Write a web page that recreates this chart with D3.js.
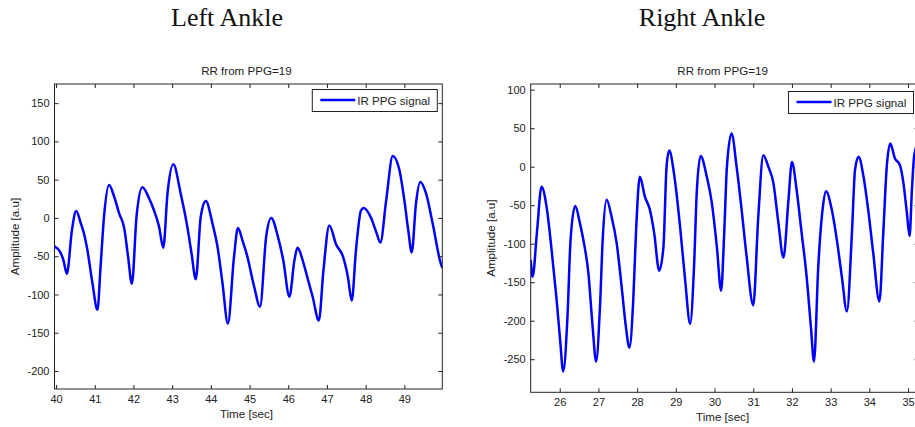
<!DOCTYPE html>
<html lang="en">
<head>
  <meta charset="UTF-8">
  <title>Left / Right Ankle PPG</title>
  <script src="https://cdnjs.cloudflare.com/ajax/libs/d3/7.8.5/d3.min.js"></script>
  <style>
    body { margin: 0; background: #fff; }
    svg { display: block; font-family: "Liberation Sans", Arial, sans-serif; }
    .big-title { font-family: "Liberation Serif", "Times New Roman", serif; font-size: 26px; fill: #111; }
    .small { font-size: 11.6px; fill: #222; }
    .tick text { font-size: 11px; fill: #222; font-family: "Liberation Sans", Arial, sans-serif; }
    .tick line { stroke: #222; }
    .frame { fill: none; stroke: #222; stroke-width: 1px; }
    .signal { fill: none; stroke: #0000ff; stroke-width: 2.5px; stroke-linejoin: round; }
    .legend-box { fill: #fff; stroke: #222; stroke-width: 1px; }
  </style>
</head>
<body>
<div id="wrapper"></div>
<script>
// ---- data ----
const leftTime = [39.96, 40.1, 40.19, 40.28, 40.41, 40.52, 40.64, 40.72, 40.81, 40.94, 41.07, 41.15, 41.24, 41.37,
  41.5, 41.63, 41.76, 41.86, 41.96, 42.08, 42.23, 42.4, 42.53, 42.66, 42.77, 42.88, 43.03, 43.22, 43.39, 43.5,
  43.61, 43.74, 43.87, 44.04, 44.17, 44.3, 44.44, 44.6, 44.7, 44.82, 44.93, 45.12, 45.27, 45.43, 45.56, 45.73,
  45.87, 46.03, 46.16, 46.24, 46.37, 46.5, 46.63, 46.79, 46.91, 47.06, 47.24, 47.41, 47.54, 47.64, 47.75, 47.88,
  47.95, 48.14, 48.27, 48.38, 48.53, 48.7, 48.87, 49.0, 49.1, 49.19, 49.3, 49.41, 49.56, 49.73, 49.95, 49.98];
const leftAmp = [-37, -44, -55, -73, -16, 9, -7, -20, -42, -85, -120, -64, 2, 43,
  28, 6, -13, -50, -86, 2, 40, 26, 10, -11, -39, 32, 70, 32, -11, -46,
  -80, 2, 22, -7, -37, -85, -138, -50, -13, -30, -48, -90, -116, -24, 0, -24,
  -55, -103, -55, -39, -55, -79, -103, -134, -68, -10, -35, -50, -77, -108, -42, 10,
  13, 0, -18, -32, 23, 81, 63, 23, -16, -45, 19, 47, 32, -7, -61, -65];

const rightTime = [25.25, 25.3, 25.41, 25.53, 25.66, 25.79, 25.92, 26.01, 26.09, 26.2, 26.28, 26.4, 26.52, 26.61,
  26.74, 26.85, 26.94, 27.04, 27.11, 27.21, 27.34, 27.47, 27.6, 27.71, 27.8, 27.9, 27.97, 28.07, 28.2, 28.33,
  28.44, 28.57, 28.68, 28.76, 28.83, 28.95, 29.11, 29.24, 29.37, 29.47, 29.54, 29.64, 29.8, 29.93, 30.06, 30.17,
  30.25, 30.32, 30.44, 30.57, 30.7, 30.83, 31.0, 31.13, 31.26, 31.39, 31.52, 31.65, 31.78, 31.91, 32.0, 32.12,
  32.25, 32.38, 32.49, 32.57, 32.68, 32.8, 32.88, 33.03, 33.16, 33.29, 33.42, 33.55, 33.63, 33.72, 33.85, 33.97,
  34.1, 34.26, 34.36, 34.45, 34.54, 34.66, 34.79, 34.88, 34.97, 35.04, 35.1, 35.16, 35.25];
const rightAmp = [-121, -143, -86, -26, -52, -108, -173, -225, -266, -195, -95, -51, -73, -95,
  -138, -208, -253, -182, -95, -43, -65, -99, -156, -208, -235, -173, -86, -13, -39, -56,
  -86, -135, -104, 0, 21, -8, -78, -147, -204, -130, -34, 14, -13, -47, -104, -161,
  -86, 0, 43, 0, -56, -117, -180, -65, 15, 0, -21, -73, -118, -43, 6, -30,
  -86, -143, -208, -253, -130, -52, -32, -56, -95, -143, -188, -86, -4, 13, -13, -56,
  -112, -175, -86, 0, 30, 11, 2, -21, -60, -90, -30, 15, 30];

const leftXTicks = [40, 41, 42, 43, 44, 45, 46, 47, 48, 49];
const leftYTicks = [-200, -150, -100, -50, 0, 50, 100, 150];
const rightXTicks = [26, 27, 28, 29, 30, 31, 32, 33, 34, 35];
const rightYTicks = [-250, -200, -150, -100, -50, 0, 50, 100];
const leftXDomain = [39.96, 49.98];
const leftYDomain = [-223.5, 175];
const rightXDomain = [25.25, 35.27];
const rightYDomain = [-293, 107.4];

const panelTitles = ["Left Ankle", "Right Ankle"];
const plotTitle = "RR from PPG=19";
const legendLabel = "IR PPG signal";

// ---- layout ----
const width = 915, height = 427;

const panels = [
  { title: panelTitles[0], cx: 227, box: { x0: 54.5, x1: 442.3, y0: 84, y1: 389 },
    time: leftTime, amp: leftAmp, xTicks: leftXTicks, yTicks: leftYTicks,
    xDomain: leftXDomain, yDomain: leftYDomain, legendY: 89.5 },
  { title: panelTitles[1], cx: 702, box: { x0: 530.7, x1: 918.5, y0: 84, y1: 392.3 },
    time: rightTime, amp: rightAmp, xTicks: rightXTicks, yTicks: rightYTicks,
    xDomain: rightXDomain, yDomain: rightYDomain, legendY: 91.5 }
];

const svg = d3.select("#wrapper")
  .append("svg")
  .attr("width", width)
  .attr("height", height);

panels.forEach((p, idx) => {
  const b = p.box;
  const x = d3.scaleLinear().domain(p.xDomain).range([b.x0, b.x1]);
  const y = d3.scaleLinear().domain(p.yDomain).range([b.y1, b.y0]);
  const data = p.time.map((t, i) => ({ t: t, v: p.amp[i] }));

  svg.append("text")
    .attr("class", "big-title")
    .attr("x", p.cx)
    .attr("y", 26)
    .attr("text-anchor", "middle")
    .text(p.title);

  svg.append("text")
    .attr("class", "small")
    .attr("x", (b.x0 + b.x1) / 2 - 2)
    .attr("y", 75)
    .attr("text-anchor", "middle")
    .text(plotTitle);

  // clip for the signal
  svg.append("clipPath")
    .attr("id", "clip" + idx)
    .append("rect")
    .attr("x", b.x0).attr("y", b.y0)
    .attr("width", b.x1 - b.x0).attr("height", b.y1 - b.y0);

  svg.append("path")
    .datum(data)
    .attr("class", "signal")
    .attr("clip-path", `url(#clip${idx})`)
    .attr("d", d3.line()
      .x(d => x(d.t))
      .y(d => y(d.v))
      .curve(d3.curveMonotoneX));

  // axes with inward ticks, matlab style
  const bottom = svg.append("g")
    .attr("transform", `translate(0,${b.y1})`)
    .call(d3.axisBottom(x).tickValues(p.xTicks).tickSize(-4).tickSizeOuter(0).tickPadding(6).tickFormat(d3.format("d")));
  const left = svg.append("g")
    .attr("transform", `translate(${b.x0},0)`)
    .call(d3.axisLeft(y).tickValues(p.yTicks).tickSize(-4).tickSizeOuter(0).tickPadding(5).tickFormat(d3.format("d")));
  const top = svg.append("g")
    .attr("transform", `translate(0,${b.y0})`)
    .call(d3.axisTop(x).tickValues(p.xTicks).tickSize(-4).tickSizeOuter(0).tickFormat(""));
  const right = svg.append("g")
    .attr("transform", `translate(${b.x1},0)`)
    .call(d3.axisRight(y).tickValues(p.yTicks).tickSize(-4).tickSizeOuter(0).tickFormat(""));
  [bottom, left, top, right].forEach(g => g.select(".domain").remove());
  left.selectAll(".tick text").text(d => d < 0 ? "-" + Math.abs(d) : d);

  svg.append("rect")
    .attr("class", "frame")
    .attr("x", b.x0).attr("y", b.y0)
    .attr("width", b.x1 - b.x0).attr("height", b.y1 - b.y0);

  svg.append("text")
    .attr("class", "small")
    .attr("x", (b.x0 + b.x1) / 2 - 2)
    .attr("y", b.y1 + 29)
    .attr("text-anchor", "middle")
    .text("Time [sec]");

  svg.append("text")
    .attr("class", "small")
    .attr("transform", `translate(${b.x0 - 36},${(b.y0 + b.y1) / 2}) rotate(-90)`)
    .attr("text-anchor", "middle")
    .text("Amplitude [a.u]");

  // legend
  const lg = svg.append("g")
    .attr("transform", `translate(${b.x1 - 130},${p.legendY})`);
  lg.append("rect")
    .attr("class", "legend-box")
    .attr("width", 125)
    .attr("height", 22);
  lg.append("line")
    .attr("x1", 8).attr("x2", 43)
    .attr("y1", 10.5).attr("y2", 10.5)
    .attr("stroke", "#0000ff")
    .attr("stroke-width", 2.5);
  lg.append("text")
    .attr("class", "small")
    .attr("x", 45)
    .attr("y", 15)
    .text(legendLabel);
});
</script>
</body>
</html>
